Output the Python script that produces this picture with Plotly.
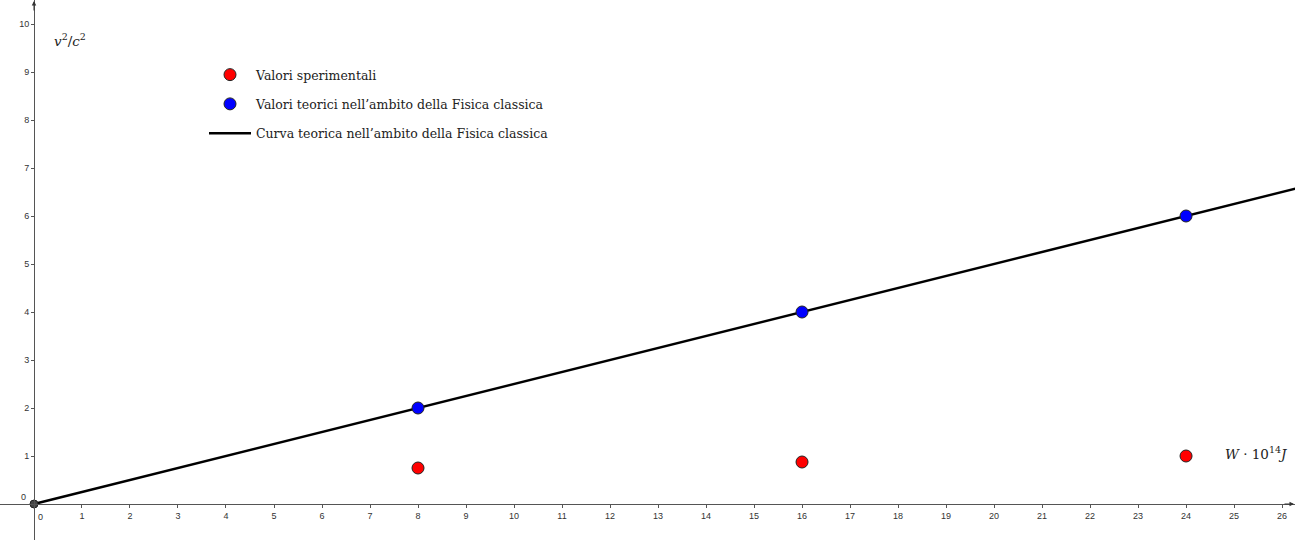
import plotly.graph_objects as go

# Data
W_exp = [8, 16, 24]
v2c2_exp = [0.75, 0.875, 1.0]
W_theo = [8, 16, 24]
v2c2_theo = [2, 4, 6]
W_curve = [0, 26.3]
v2c2_curve = [0, 6.575]
origin_x = [0]
origin_y = [0]
x_ticks = list(range(1, 27))
y_ticks = list(range(1, 11))

xr = [-0.708, 26.27]
yr = [-0.75, 10.5]

fig = go.Figure()

fig.add_trace(go.Scatter(
    x=W_curve, y=v2c2_curve, mode="lines",
    line=dict(color="black", width=2.5),
    name="Curva teorica nell\u2019ambito della Fisica classica",
    legendrank=3, legendgroup="c",
))
fig.add_trace(go.Scatter(
    x=origin_x, y=origin_y, mode="markers",
    marker=dict(color="#444444", size=8, line=dict(color="#222222", width=1)),
    showlegend=False,
))
fig.add_trace(go.Scatter(
    x=W_exp, y=v2c2_exp, mode="markers",
    marker=dict(color="#ff0000", size=12, line=dict(color="#222222", width=1)),
    name="Valori sperimentali",
    legendrank=1, legendgroup="a",
))
fig.add_trace(go.Scatter(
    x=W_theo, y=v2c2_theo, mode="markers",
    marker=dict(color="#0000ff", size=12, line=dict(color="#222222", width=1)),
    name="Valori teorici nell\u2019ambito della Fisica classica",
    legendrank=2, legendgroup="b",
))

xpos = (0 - yr[0]) / (yr[1] - yr[0])
ypos = (0 - xr[0]) / (xr[1] - xr[0])

tickfont = dict(family="Liberation Sans, Arial", size=9, color="#333333")
axcol = "#555555"

fig.update_layout(
    width=1295, height=540,
    margin=dict(l=0, r=0, t=0, b=0),
    paper_bgcolor="white", plot_bgcolor="white",
    showlegend=True,
    legend=dict(
        x=204 / 1295, y=1 - 60 / 540, xanchor="left", yanchor="top",
        font=dict(family="DejaVu Serif, Liberation Serif", size=12.5, color="#222222"),
        bgcolor="rgba(0,0,0,0)", itemwidth=42, tracegroupgap=10,
    ),
    xaxis=dict(
        range=xr, anchor="free", position=xpos,
        showgrid=False, zeroline=False, showline=True,
        linecolor=axcol, linewidth=1,
        ticks="outside", ticklen=3, tickcolor=axcol,
        tickvals=x_ticks,
        tickfont=tickfont,
    ),
    yaxis=dict(
        range=yr, anchor="free", position=ypos,
        showgrid=False, zeroline=False, showline=True,
        linecolor=axcol, linewidth=1,
        ticks="outside", ticklen=3, tickcolor=axcol,
        tickvals=y_ticks,
        tickfont=tickfont,
    ),
)

# origin labels
fig.add_annotation(x=0, y=0, xref="x", yref="y", text="0", showarrow=False,
                   xshift=7, yshift=-13, font=tickfont)
fig.add_annotation(x=0, y=0, xref="x", yref="y", text="0", showarrow=False,
                   xshift=-10, yshift=7, font=tickfont)

# axis titles
serif = dict(family="DejaVu Serif, Liberation Serif", size=13.5, color="#222222")
fig.add_annotation(x=0.375, y=9.67, xref="x", yref="y", xanchor="left",
                   text="<i>v</i><sup>2</sup>/<i>c</i><sup>2</sup>", showarrow=False,
                   font=serif)
fig.add_annotation(x=26.17, y=1.06, xref="x", yref="y", xanchor="right",
                   text="<i>W</i> \u00b7 10<sup>14</sup><i>J</i>", showarrow=False,
                   font=serif)

# axis arrowheads
fig.add_annotation(x=1, y=0, xref="paper", yref="y", ax=-12, ay=0,
                   showarrow=True, arrowhead=2, arrowsize=0.9, arrowwidth=1,
                   arrowcolor="#333333", text="")
fig.add_annotation(x=0, y=1, xref="x", yref="paper", ax=0, ay=12,
                   showarrow=True, arrowhead=2, arrowsize=0.9, arrowwidth=1,
                   arrowcolor="#333333", text="")

fig.write_html("out.html", config={"displayModeBar": False},
               post_script="document.body.style.margin='0';document.body.style.overflow='hidden';")
